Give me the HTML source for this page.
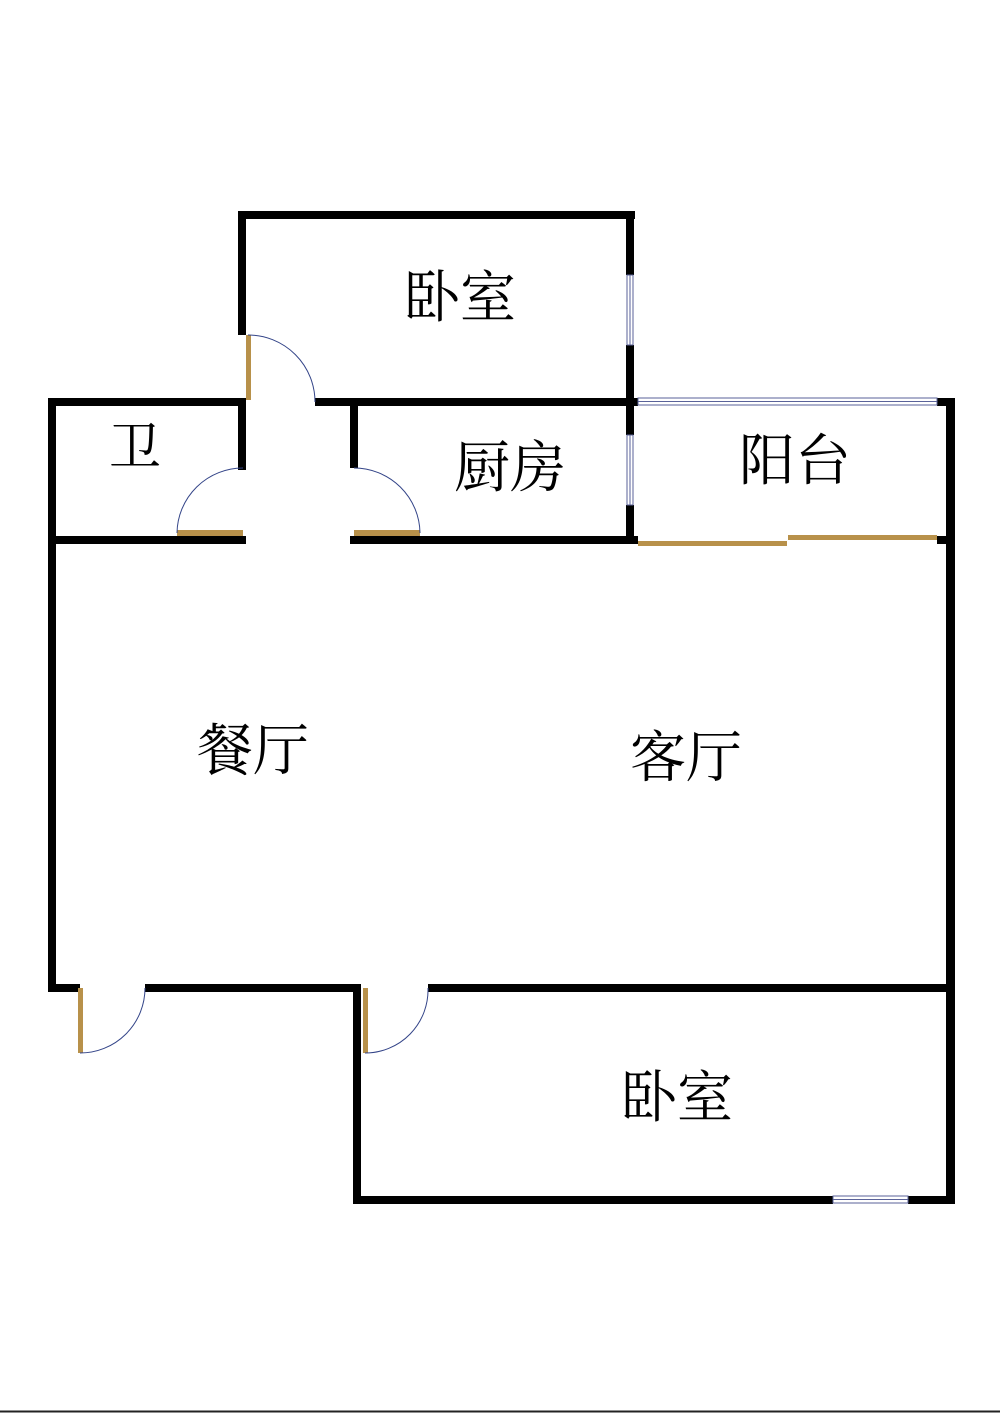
<!DOCTYPE html>
<html><head><meta charset="utf-8"><style>
html,body{margin:0;padding:0;background:#fff;}
svg{display:block;}
text{font-family:"Liberation Serif","Noto Serif CJK SC",serif;fill:#000;}
</style></head><body>
<svg width="1000" height="1413" viewBox="0 0 1000 1413" xmlns="http://www.w3.org/2000/svg">
<rect width="1000" height="1413" fill="#fff"/>
<g fill="#000">
<rect x="238" y="211" width="397" height="8"/>
<rect x="238" y="211" width="8" height="124"/>
<rect x="238" y="398" width="8" height="72"/>
<rect x="626" y="211" width="8" height="64"/>
<rect x="626" y="345" width="8" height="90"/>
<rect x="626" y="505" width="8" height="39"/>
<rect x="315" y="398" width="323" height="8"/>
<rect x="48" y="398" width="198" height="8"/>
<rect x="48" y="398" width="8" height="594"/>
<rect x="48" y="536" width="198" height="8"/>
<rect x="350" y="398" width="8" height="70"/>
<rect x="350" y="536" width="288" height="8"/>
<rect x="937" y="398" width="18" height="8"/>
<rect x="946" y="398" width="9" height="806"/>
<rect x="937" y="536" width="18" height="8"/>
<rect x="48" y="984" width="32" height="8"/>
<rect x="145" y="984" width="216" height="8"/>
<rect x="428" y="984" width="527" height="8"/>
<rect x="353" y="984" width="8" height="220"/>
<rect x="353" y="1196" width="480" height="8"/>
<rect x="908" y="1196" width="47" height="8"/>
</g>
<g fill="#fff" stroke="#5a6299" stroke-width="1">
<rect x="627" y="275" width="6" height="70"/>
<rect x="627" y="435" width="6" height="70"/>
<rect x="638" y="398" width="299" height="7"/>
<rect x="833" y="1196" width="75" height="7"/>
</g>
<g stroke="#5a6299" stroke-width="1">
<line x1="630" y1="275" x2="630" y2="345"/>
<line x1="630" y1="435" x2="630" y2="505"/>
<line x1="638" y1="401.5" x2="937" y2="401.5"/>
<line x1="833" y1="1199.5" x2="908" y2="1199.5"/>
</g>
<g fill="#b8914a">
<rect x="246" y="335" width="5" height="65"/>
<rect x="177" y="530" width="66" height="6"/>
<rect x="354" y="530" width="66" height="6"/>
<rect x="638" y="541" width="149" height="5"/>
<rect x="788" y="535" width="149" height="5"/>
<rect x="78" y="988" width="5" height="65"/>
<rect x="363" y="988" width="5" height="65"/>
</g>
<g fill="none" stroke="#334488" stroke-width="1">
<path d="M248 335 A67 67 0 0 1 315 402"/>
<path d="M177 533 A66 66 0 0 1 243 468"/>
<path d="M354 468 A66 66 0 0 1 420 533"/>
<path d="M80 1053 A65 65 0 0 0 145 988"/>
<path d="M365 1053 A63 63 0 0 0 428 988"/>
</g>
<line x1="0" y1="1411.5" x2="1000" y2="1411.5" stroke="#222" stroke-width="2"/>
<g font-size="56" text-anchor="middle">
<text x="460" y="317">卧室</text>
<text x="135" y="465" font-size="52">卫</text>
<text x="510" y="487">厨房</text>
<text x="795" y="480">阳台</text>
<text x="253" y="770">餐厅</text>
<text x="686" y="777">客厅</text>
<text x="677" y="1117">卧室</text>
</g>
</svg>
</body></html>
